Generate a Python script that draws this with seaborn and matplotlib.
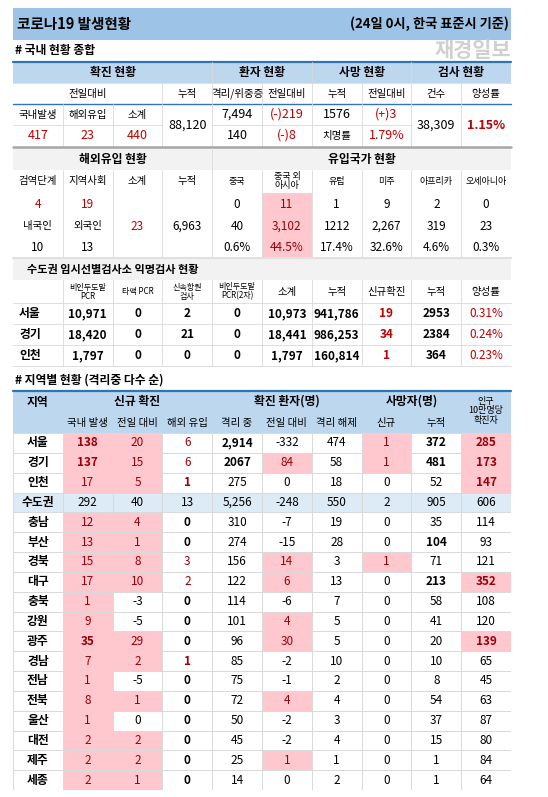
import numpy as np
import pandas as pd
import matplotlib.pyplot as plt
from matplotlib.colors import ListedColormap
from matplotlib.patches import Rectangle
import seaborn as sns

sns.set_theme(style="white")
plt.rcParams['font.family'] = ['Noto Sans CJK KR', 'DejaVu Sans']

# ---- data ----
title = "코로나19 발생현황"
title_right = "(24일 0시, 한국 표준시 기준)"

dom_head1 = ["확진 현황", "환자 현황", "사망 현황", "검사 현황"]
dom_head2 = ["누적", "격리/위중증", "전일대비", "누적", "전일대비", "건수", "양성률"]
dom_new_labels = ["국내발생", "해외유입", "소계"]
dom_new_values = ["417", "23", "440"]
dom_total = "88,120"
dom_patients = ["7,494", "140"]
dom_patients_diff = ["(-)219", "(-)8"]
dom_death = ["1576", "치명률"]
dom_death_diff = ["(+)3", "1.79%"]
dom_tests = "38,309"
dom_positive = "1.15%"

imp_head = ["검역단계", "지역사회", "소계", "누적", "중국", "중국 외\n아시아", "유럽", "미주", "아프리카", "오세아니아"]
imp_stage = [["4", "19"], ["내국인", "외국인"], ["10", "13"]]
imp_sub = "23"
imp_total = "6,963"
imp_country = [["0", "11", "1", "9", "2", "0"],
               ["40", "3,102", "1212", "2,267", "319", "23"],
               ["0.6%", "44.5%", "17.4%", "32.6%", "4.6%", "0.3%"]]

cap_head = ["비인두도말\nPCR", "타액 PCR", "신속항원\n검사", "비인두도말\nPCR(2차)", "소계", "누적", "신규확진", "누적", "양성률"]
cap_regions = ["서울", "경기", "인천"]
cap_values = [["10,971", "0", "2", "0", "10,973", "941,786", "19", "2953", "0.31%"],
              ["18,420", "0", "21", "0", "18,441", "986,253", "34", "2384", "0.24%"],
              ["1,797", "0", "0", "0", "1,797", "160,814", "1", "364", "0.23%"]]

regions = ["서울", "경기", "인천", "수도권", "충남", "부산", "경북", "대구", "충북", "강원",
           "광주", "경남", "전남", "전북", "울산", "대전", "제주", "세종"]
new_domestic = [138, 137, 17, 292, 12, 13, 15, 17, 1, 9, 35, 7, 1, 8, 1, 2, 2, 2]
new_diff = [20, 15, 5, 40, 4, 1, 8, 10, -3, -5, 29, 2, -5, 1, 0, 2, 2, 1]
new_import = [6, 6, 1, 13, 0, 0, 3, 2, 0, 0, 0, 1, 0, 0, 0, 0, 0, 0]
isolated = ["2,914", "2067", "275", "5,256", "310", "274", "156", "122", "114", "101",
            "96", "85", "75", "72", "50", "45", "25", "14"]
iso_diff = [-332, 84, 0, -248, -7, -15, 14, 6, -6, 4, 30, -2, -1, 4, -2, -2, 1, 0]
released = [474, 58, 18, 550, 19, 28, 3, 13, 7, 5, 5, 10, 2, 4, 3, 4, 1, 2]
death_new = [1, 1, 0, 2, 0, 0, 1, 0, 0, 0, 0, 0, 0, 0, 0, 0, 0, 0]
death_total = [372, 481, 52, 905, 35, 104, 71, 213, 58, 41, 20, 10, 8, 54, 37, 15, 1, 1]
per100k = [285, 173, 147, 606, 114, 93, 121, 352, 108, 120, 139, 65, 45, 63, 87, 80, 84, 64]

# ---- styling helpers ----
W, H = 548, 797
RED = '#c00000'
DRED = '#9c0006'
PINK = '#ffc7ce'
HEAD = '#bdd7ee'
GRAY = '#f2f2f2'
LINE = '#d9d9d9'
x0, cw = 13, 49.8
cx = [x0 + cw * i + cw / 2 for i in range(10)]

fig = plt.figure(figsize=(W / 100, H / 100), dpi=100)
ax = fig.add_axes([0, 0, 1, 1])
ax.set_xlim(0, W)
ax.set_ylim(H, 0)
ax.axis('off')


def t(x, y, s, size=8.5, color='black', bold=False, ha='center', a=ax):
    a.text(x, y, s, fontsize=size, color=color, ha=ha, va='center',
           fontweight='bold' if bold else 'normal', linespacing=1.0)


def box(x1, y1, x2, y2, fc):
    ax.add_patch(Rectangle((x1, y1), x2 - x1, y2 - y1, fc=fc, ec='none', zorder=0))


def hline(y, x1=13, x2=511, c=LINE, lw=0.6):
    ax.plot([x1, x2], [y, y], color=c, lw=lw)


def vline(x, y1, y2, c=LINE, lw=0.6):
    ax.plot([x, x], [y1, y2], color=c, lw=lw)


def span(i, j):
    return (cx[i] + cx[j]) / 2


# title bar
box(13, 8, 511, 40, '#9dc3e6')
t(17, 24, title, size=10.5, bold=True, ha='left')
t(509, 24, title_right, size=9.5, bold=True, ha='right')
t(15, 50, "# 국내 현황 종합", size=8.5, bold=True, ha='left')
t(511, 50, "재경일보", size=15, color='#d0d0d0', bold=True, ha='right')

# domestic summary
box(13, 62, 511, 83, HEAD)
hline(61.5, c='#2e75b6', lw=1.6)
hline(83)
hline(104, c='#2e75b6', lw=1)
for k, (i, j) in enumerate([(0, 3), (4, 5), (6, 7), (8, 9)]):
    t(span(i, j), 72.5, dom_head1[k], size=8.5, bold=True)
t(span(0, 2), 93.5, "전일대비", size=7.5)
for k, lab in enumerate(dom_head2):
    t(cx[k + 3], 93.5, lab, size=7.5)
for k in range(3):
    t(cx[k], 114.5, dom_new_labels[k], size=7.5)
    t(cx[k], 135.5, dom_new_values[k], size=9, color=RED)
t(cx[3], 125, dom_total, size=9)
for r, y in enumerate([114.5, 135.5]):
    t(cx[4], y, dom_patients[r], size=9)
    t(cx[5], y, dom_patients_diff[r], size=9, color=RED)
    t(cx[6], y, dom_death[r], size=9 if r == 0 else 7.5)
    t(cx[7], y, dom_death_diff[r], size=9, color=RED)
t(cx[8], 125, dom_tests, size=9)
t(cx[9], 125, dom_positive, size=9, color=RED, bold=True)
hline(125, 13, 162)
hline(125, 212, 412)
for i in range(1, 10):
    top = 62 if i in (4, 6, 8) else (104 if i in (1, 2) else 83)
    vline(x0 + cw * i, top, 146)
hline(147, c='#a6a6a6', lw=1.8)

# imported cases
box(13, 148, 511, 170, GRAY)
t(span(0, 3), 159, "해외유입 현황", size=8.5, bold=True)
t(span(4, 9), 159, "유입국가 현황", size=8.5, bold=True)
for k, lab in enumerate(imp_head):
    t(cx[k], 181, lab, size=6.5 if k >= 4 else 7.5)
box(262, 193, 312, 258, PINK)
ys = [204, 226, 247.5]
for r in range(3):
    for k in range(2):
        col = RED if r == 0 else 'black'
        t(cx[k], ys[r], imp_stage[r][k], size=8.5 if r != 1 else 7.5, color=col)
    for k in range(6):
        t(cx[k + 4], ys[r], imp_country[r][k], size=8.5, color=DRED if k == 1 else 'black')
t(cx[2], 226, imp_sub, size=8.5, color=RED)
t(cx[3], 226, imp_total, size=8.5)
for i in range(1, 10):
    vline(x0 + cw * i, 148 if i == 4 else 170, 258)

# capital area testing
box(13, 258, 511, 280, GRAY)
hline(258, c='#e0e0e0', lw=1.5)
t(27, 269, "수도권 임시선별검사소 익명검사 현황", size=8, bold=True, ha='left')
for k, lab in enumerate(cap_head):
    multi = '\n' in lab
    t(cx[k + 1], 291.5, lab, size=5.8 if multi or k == 1 else 7.5)
for r, y in enumerate([313.5, 334.5, 355.5]):
    t(cx[0] - 8, y, cap_regions[r], size=8.5, bold=True)
    for k, v in enumerate(cap_values[r]):
        col = RED if k in (6, 8) else 'black'
        t(cx[k + 1], y, v, size=8.5, color=col, bold=(k != 8))
for y in [303, 324, 345, 366]:
    hline(y)
for i in range(1, 10):
    vline(x0 + cw * i, 280, 366)

t(15, 380, "# 지역별 현황 (격리중 다수 순)", size=8.5, bold=True, ha='left')

# regional table header
box(13, 391, 511, 433, HEAD)
hline(391, c='#2e75b6', lw=1.6)
t(cx[0], 402, "지역", size=8.5, bold=True)
t(span(1, 3), 401, "신규 확진", size=8.5, bold=True)
t(span(4, 6), 401, "확진 환자(명)", size=8.5, bold=True)
t(span(7, 8), 401, "사망자(명)", size=8.5, bold=True)
t(cx[9], 411, "인구\n10만명당\n확진자", size=6.5)
for k, lab in enumerate(["국내 발생", "전일 대비", "해외 유입", "격리 중", "전일 대비", "격리 해제", "신규", "누적"]):
    t(cx[k + 1], 423, lab, size=7.5)

# regional body via seaborn heatmap (0 white, 1 pink, 2 light blue)
n = len(regions)
flag = np.zeros((n, 10), dtype=int)
for r in range(n):
    if regions[r] == "수도권":
        flag[r, :] = 2
        continue
    flag[r, 1] = 1
    if r not in (8, 9, 12, 14):
        flag[r, 2] = 1
    if regions[r] in ("경기", "경북", "대구", "강원", "광주", "전북", "제주"):
        flag[r, 5] = 1
    if death_new[r] > 0:
        flag[r, 7] = 1
    if per100k[r] >= 130:
        flag[r, 9] = 1
df_flag = pd.DataFrame(flag, index=regions)
hax = fig.add_axes([13 / W, 1 - 790 / H, 498 / W, 357 / H])
sns.heatmap(df_flag, ax=hax, cmap=ListedColormap(['white', PINK, '#ddebf7']), vmin=0, vmax=2,
            cbar=False, linewidths=0.6, linecolor=LINE, xticklabels=False, yticklabels=False)

cols = [new_domestic, new_diff, new_import, isolated, iso_diff, released, death_new, death_total, per100k]
for r in range(n):
    y = r + 0.5
    t(0.5, y, regions[r], size=8.5, bold=True, a=hax)
    for k, vals in enumerate(cols):
        v = vals[r]
        hl = flag[r, k + 1] == 1
        color = DRED if hl else 'black'
        bold = False
        if k == 0 and v >= 35 and regions[r] != "수도권":
            bold = True
        if k == 2 and regions[r] != "수도권":
            bold = (v == 0 or v == 1)
            color = DRED if v > 0 else 'black'
        if k == 3 and r < 2:
            bold = True
        if k == 7 and v >= 100 and regions[r] != "수도권":
            bold = True
        if k == 8 and hl:
            bold = True
        t(k + 1.5, y, str(v), size=8.5, color=color, bold=bold, a=hax)

fig.savefig("out.png", dpi=100)
